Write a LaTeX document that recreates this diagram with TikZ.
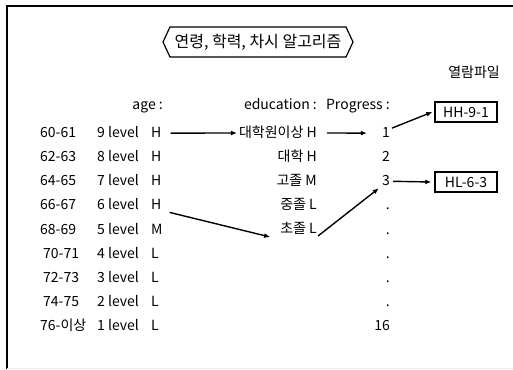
\documentclass[tikz,border=0pt]{standalone}
\usepackage{fontspec}
\setmainfont{Noto Sans CJK KR}
\usetikzlibrary{shapes.symbols, arrows.meta}

\begin{document}
\begin{tikzpicture}[x=1pt, y=-1pt, font=\fontsize{14}{16}\selectfont,
    cell/.style={inner sep=0pt, text height=10pt, text depth=1pt},
    result/.style={draw, line width=1.4pt, inner sep=0pt, minimum width=62pt, minimum height=20pt},
    link/.style={-{Latex[length=6pt,width=5pt]}, line width=1.4pt}]
  \useasboundingbox (0,0) rectangle (513,369);
  % frame
  \draw[line width=2pt] (7,369) -- (7,6) -- (513,6);
  \draw[gray!15] (7,368) -- (513,368);

  % title
  \node[draw, line width=1.2pt, shape=signal, signal to=west and east, signal pointer angle=130,
        minimum width=190pt, minimum height=30pt, inner sep=2pt, font=\fontsize{16}{18}\selectfont]
        (title) at (258,42) {연령, 학력, 차시 알고리즘};
  \node[cell, anchor=east] (file) at (500,73) {열람파일};

  % headers
  \node[cell, anchor=east] (hage) at (163,105) {age :};
  \node[cell, anchor=east] (hedu) at (317,105) {education :};
  \node[cell, anchor=east] (hprog) at (390,105) {Progress :};

  % rows
  \foreach \i/\ax/\ag/\lv/\gr/\pr in {1/40/60-61/9/H/1, 2/40/62-63/8/H/2, 3/40/64-65/7/H/3,
      4/40/66-67/6/H/., 5/40/68-69/5/M/., 6/43/70-71/4/L/., 7/43/72-73/3/L/., 8/43/74-75/2/L/.,
      9/40/76-이상/1/L/16} {
    \node[cell, anchor=west] (age\i) at (\ax,{109+24.1*\i}) {\ag};
    \node[cell, anchor=west] (lv\i) at (97,{109+24.1*\i}) {\lv\ level};
    \node[cell, anchor=west] (gr\i) at (151,{109+24.1*\i}) {\gr};
    \node[cell, anchor=east] (prog\i) at (390,{109+24.1*\i}) {\pr};
  }
  \node[cell, anchor=east] (edu1) at (317,133) {대학원이상 H};
  \node[cell, anchor=east] (edu2) at (317,157) {대학 H};
  \node[cell, anchor=east] (edu3) at (317,181) {고졸 M};
  \node[cell, anchor=east] (edu4) at (317,205) {중졸 L};
  \node[cell, anchor=east] (edu5) at (317,229) {초졸 L};

  % files
  \node[result] (hh) at (466,112) {HH-9-1};
  \node[result] (hl) at (466,182) {HL-6-3};

  % links
  \draw[link] ([xshift=9pt]gr1.east) -- ([xshift=-2pt]edu1.west);
  \draw[link] ([xshift=10pt]edu1.east) -- ([xshift=-15pt]prog1.west);
  \draw[link] ([xshift=2pt,yshift=5pt]prog1.east) -- ([xshift=-2pt]hh.west);
  \draw[link] ([xshift=3pt]prog3.east) -- ([xshift=-3pt]hl.west);
  \draw[link] ([xshift=8pt,yshift=-7pt]gr4.east) -- ([xshift=-10pt,yshift=-8pt]edu5.west);
  \draw[link] ([xshift=1pt,yshift=-7pt]edu5.east) -- ([xshift=-3pt,yshift=-7pt]prog3.west);
\end{tikzpicture}
\end{document}
